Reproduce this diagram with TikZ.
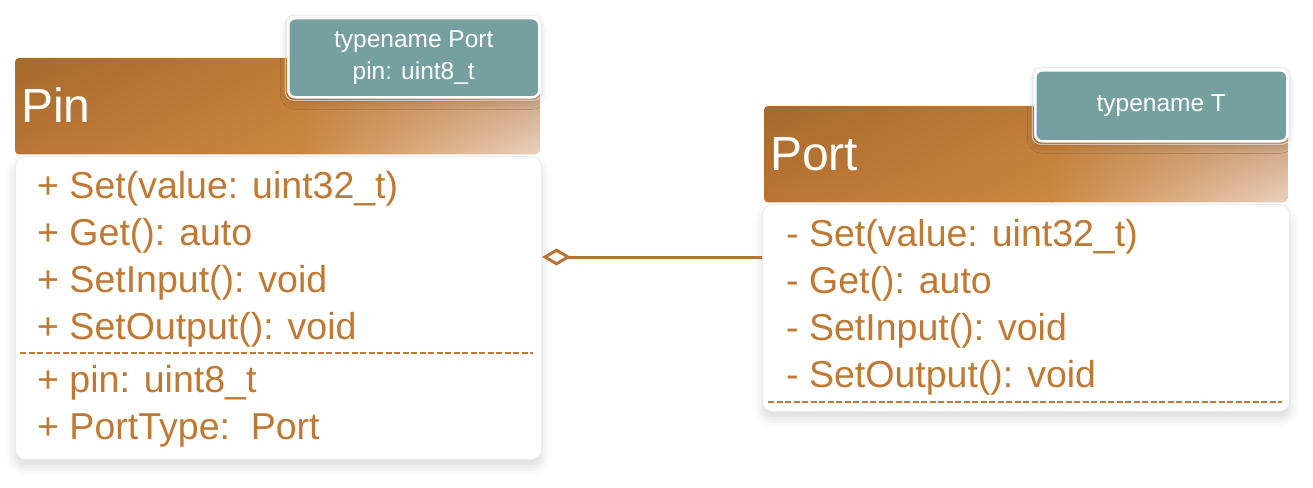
\documentclass[tikz,border=0pt]{standalone}
\usepackage{fontspec}
\setmainfont{Liberation Sans}
\usetikzlibrary{arrows.meta,shadows.blur,shadings}
\definecolor{txt}{HTML}{BF7934}
\definecolor{conn}{HTML}{B87333}
\definecolor{tl}{HTML}{76A09F}
\definecolor{hA}{HTML}{A66A2B}
\definecolor{hB}{HTML}{BE7B37}
\definecolor{hC}{HTML}{B97535}
\definecolor{hD}{HTML}{CB8842}
\definecolor{hE}{HTML}{BE8E62}
\definecolor{hF}{HTML}{EBD0BE}
\definecolor{bord}{HTML}{E8ECF1}
\begin{document}
\begin{tikzpicture}[x=1pt,y=-1pt,
  classbody/.style={draw=bord, line width=1pt, fill=white, rounded corners=10pt, anchor=north west, inner sep=0pt,
    blur shadow={shadow xshift=0pt, shadow yshift=-7pt, shadow blur radius=10pt, shadow opacity=15}},
  classhead/.style={anchor=north west, inner sep=0pt},
  headleft/.style={upper left=hA, upper right=hB, lower left=hC, lower right=hD},
  headright/.style={upper left=hB, upper right=hE, lower left=hD, lower right=hF},
  classtitle/.style={anchor=base west, inner sep=0pt, text=white, font=\fontsize{48}{48}\selectfont},
  member/.style={anchor=base west, inner sep=0pt, text=txt, font=\fontsize{37.5}{37.5}\selectfont},
  tmpl/.style={anchor=north west, inner sep=0pt, fill=tl, draw=white, line width=2.5pt, rounded corners=7pt,
    text=white, align=center, font=\fontsize{24.5}{32}\selectfont,
    blur shadow={shadow xshift=0pt, shadow yshift=-4pt, shadow blur radius=8pt, shadow opacity=20}},
  tmplrim/.style={draw=black!9, line width=0.7pt, rounded corners=8.5pt},
  sepline/.style={draw=txt, line width=2pt, dash pattern=on 6pt off 2.5pt},
  agg/.style={draw=conn, line width=3pt, -{Diamond[open, length=29pt, width=17pt, line width=3pt]}}
]
\useasboundingbox (0,0) rectangle (1313,487);

% bodies
\node[classbody, minimum width=526pt, minimum height=303pt] (pinbody) at (15,156) {};
\node[classbody, minimum width=527pt, minimum height=207pt] (portbody) at (762,204) {};

% headers
\node[classhead, minimum width=524pt, minimum height=96pt] (pinhead) at (15,58) {};
\node[classhead, minimum width=523pt, minimum height=96pt] (porthead) at (764,106) {};
\begin{scope}
  \clip[rounded corners=4pt] (pinhead.north west) rectangle (pinhead.south east);
  \shade[headleft] (pinhead.north west) rectangle (303,154);
  \shade[headright] (302,58) rectangle (pinhead.south east);
\end{scope}
\begin{scope}
  \clip[rounded corners=4pt] (porthead.north west) rectangle (porthead.south east);
  \shade[headleft] (porthead.north west) rectangle (1052,202);
  \shade[headright] (1051,106) rectangle (porthead.south east);
\end{scope}

\node[classtitle] (pintitle) at (21,122) {Pin};
\node[classtitle] (porttitle) at (770,170) {Port};

% templates
\node[tmpl, minimum width=251pt, minimum height=79pt] (pintmpl) at (287,17) {typename Port\\pin: uint8\_t};
\node[tmpl, minimum width=252pt, minimum height=71pt] (porttmpl) at (1034,69) {typename T};
\draw[tmplrim] ([shift={(-1.8pt,1.8pt)}]pintmpl.north west) rectangle ([shift={(1.8pt,-1.8pt)}]pintmpl.south east);
\draw[tmplrim] ([shift={(-1.8pt,1.8pt)}]porttmpl.north west) rectangle ([shift={(1.8pt,-1.8pt)}]porttmpl.south east);

% Pin members
\node[member] (p1) at (37,198.5) {+ Set(value: uint32\_t)};
\node[member] (p2) at (37,245.5) {+ Get(): auto};
\node[member] (p3) at (37,292.5) {+ SetInput(): void};
\node[member] (p4) at (37,339.5) {+ SetOutput(): void};
\node[member] (p5) at (37,392.5) {+ pin: uint8\_t};
\node[member] (p6) at (37,439.5) {+ PortType:\ \ Port};
\coordinate (ps1) at (20,353);
\coordinate (ps2) at (533,353);
\draw[sepline] (ps1) -- (ps2);

% Port members
\node[member] (q1) at (786,246.5) {- Set(value: uint32\_t)};
\node[member] (q2) at (786,293.5) {- Get(): auto};
\node[member] (q3) at (786,340.5) {- SetInput(): void};
\node[member] (q4) at (786,387.5) {- SetOutput(): void};
\coordinate (qs1) at (768,402);
\coordinate (qs2) at (1282,402);
\draw[sepline] (qs1) -- (qs2);

% aggregation
\draw[agg] (portbody.west |- 0,257) -- (pinbody.east |- 0,257);
\end{tikzpicture}
\end{document}
